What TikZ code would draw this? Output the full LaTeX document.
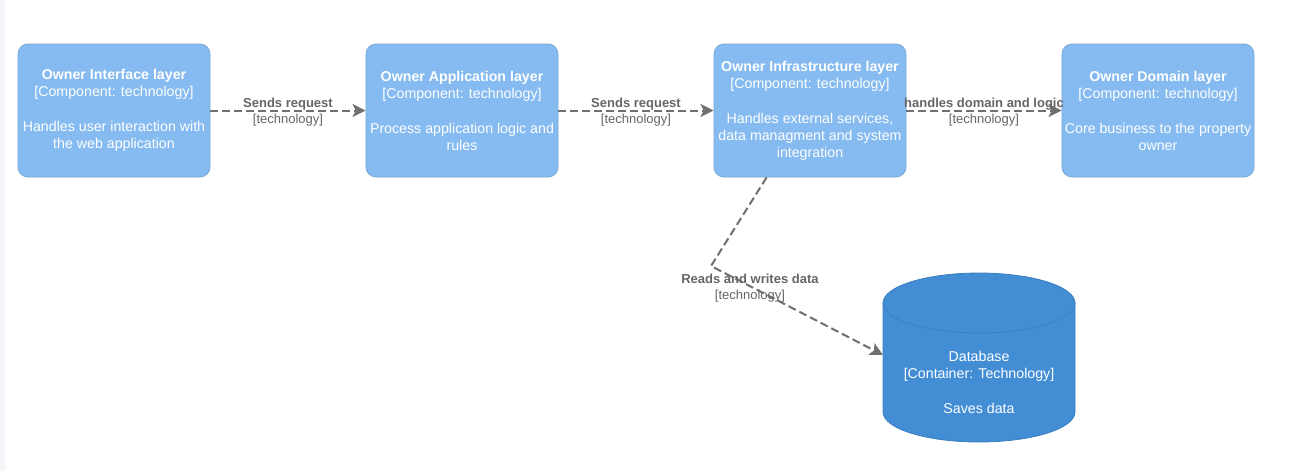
\documentclass[tikz,border=0pt]{standalone}
\usepackage{fontspec}
\setmainfont{Liberation Sans}
\usetikzlibrary{arrows.meta}
\definecolor{compfill}{HTML}{85BBF0}
\definecolor{compline}{HTML}{78A8D8}
\definecolor{dbfill}{HTML}{438DD5}
\definecolor{dbline}{HTML}{3C7FC0}
\definecolor{edgecol}{HTML}{707070}
\definecolor{labcol}{HTML}{666666}
\definecolor{stripcol}{HTML}{F3F5F8}
\tikzset{
  comp/.style={draw=compline, fill=compfill, rounded corners=10pt, line width=0.8pt,
    minimum width=192pt, minimum height=133pt, inner sep=0pt, text=white,
    align=center, font=\fontsize{14.2}{17}\selectfont},
  rel/.style={draw=edgecol, line width=2pt, dash pattern=on 8pt off 4pt,
    -{Stealth[length=13pt,width=13pt,inset=3pt]}},
  rellabel/.style={text=labcol, align=center, inner sep=0pt,
    font=\fontsize{13}{15.5}\selectfont},
}
\begin{document}
\begin{tikzpicture}[x=1pt,y=1pt]
\useasboundingbox (0,0) rectangle (1289,-471);
\fill[white] (0,0) rectangle (1289,-471);
\fill[stripcol] (0,0) rectangle (5,-471);

\node[comp] (iface) at (114,-110.5) {\textbf{Owner Interface layer}\\{}[Component: technology]\\[18pt]Handles user interaction with\\the web application};
\node[comp] (app) at (462,-110.5) {\textbf{Owner Application layer}\\{}[Component: technology]\\[18pt]Process application logic and\\rules};
\node[comp] (infra) at (810,-110.5) {\textbf{Owner Infrastructure layer}\\{}[Component: technology]\\[18pt]Handles external services,\\data managment and system\\integration};
\node[comp] (domain) at (1158,-110.5) {\textbf{Owner Domain layer}\\{}[Component: technology]\\[18pt]Core business to the property\\owner};

% database cylinder
\fill[dbfill] (883,-303) -- (883,-412) arc[start angle=180,end angle=360,x radius=96,y radius=30]
  -- (1075,-303) arc[start angle=0,end angle=180,x radius=96,y radius=30] -- cycle;
\draw[dbline, line width=0.8pt] (883,-303) -- (883,-412) arc[start angle=180,end angle=360,x radius=96,y radius=30]
  -- (1075,-303) arc[start angle=0,end angle=180,x radius=96,y radius=30] -- cycle;
\draw[dbline, line width=0.8pt] (883,-303) arc[start angle=180,end angle=360,x radius=96,y radius=30];
\node[inner sep=0pt, minimum width=192pt, minimum height=169pt] (db) at (979,-357.5) {};
\node[text=white, align=center, inner sep=0pt, font=\fontsize{14.2}{17}\selectfont] (dbtext) at (979,-382)
  {Database\\{}[Container: Technology]\\[18pt]Saves data};

% connectors
\draw[rel] (iface.east) -- (app.west);
\draw[rel] (app.east) -- (infra.west);
\draw[rel] (infra.east) -- (domain.west);
\coordinate (bend) at (711,-266);
\coordinate (dbin) at (883,-355);
\path (infra.south west) ++(53,0) coordinate (infraout);
\draw[rel] (infraout) -- (bend) -- (dbin);

% labels
\node[rellabel] (l1) at (288,-112) {\textbf{Sends request}\\{}[technology]};
\node[rellabel] (l2) at (636,-112) {\textbf{Sends request}\\{}[technology]};
\node[rellabel] (l3) at (984,-112) {\textbf{handles domain and logic}\\{}[technology]};
\node[rellabel] (l4) at (750,-288) {\textbf{Reads and writes data}\\{}[technology]};
\end{tikzpicture}
\end{document}
